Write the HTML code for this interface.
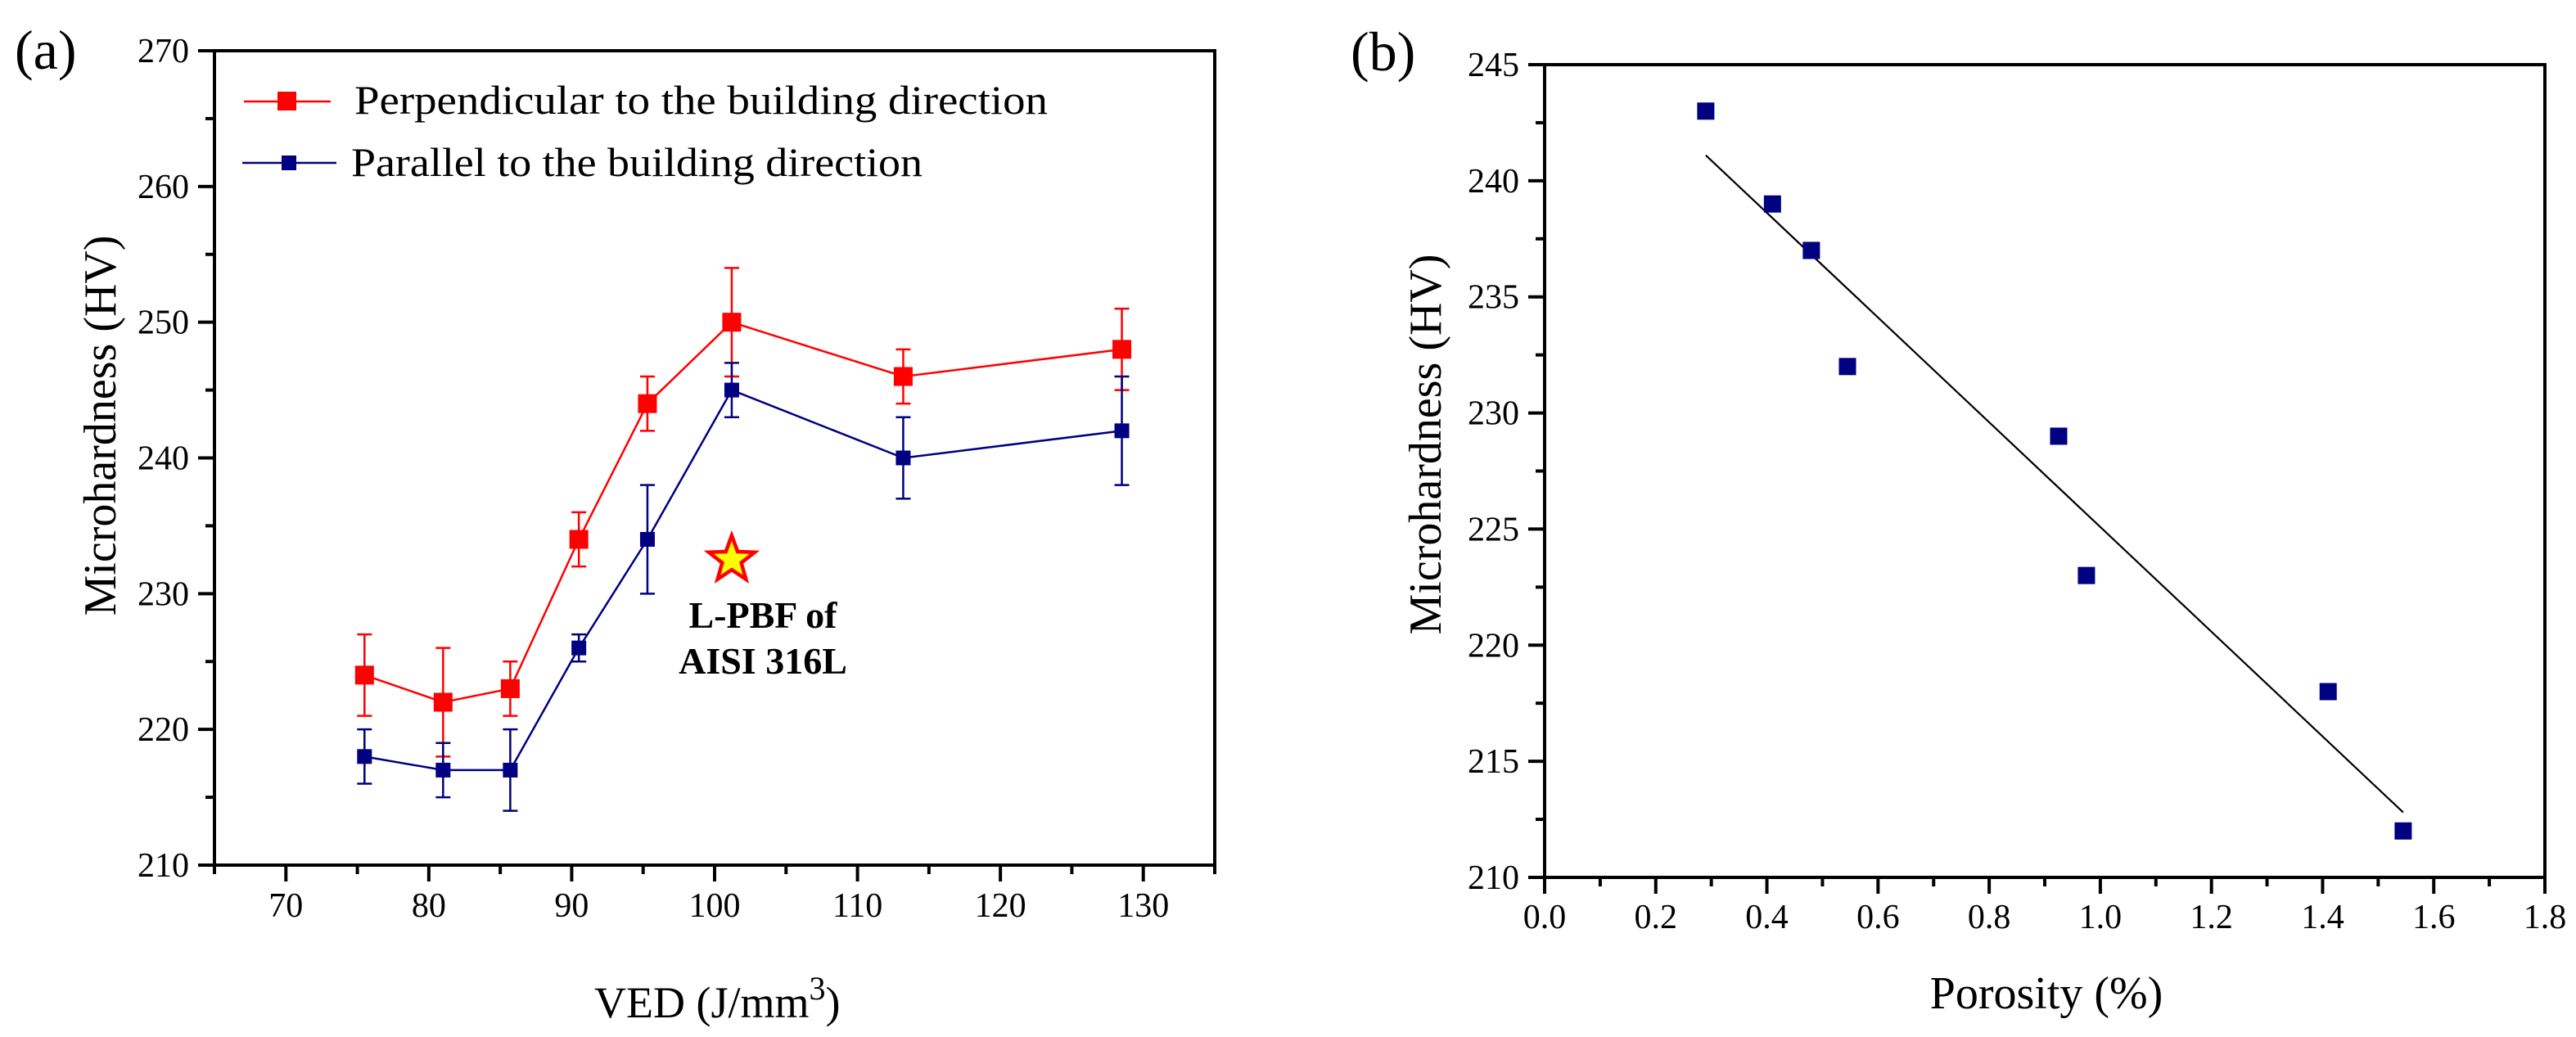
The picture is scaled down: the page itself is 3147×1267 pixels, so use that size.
<!DOCTYPE html>
<html><head><meta charset="utf-8"><style>
html,body{margin:0;padding:0;background:#fff;}
svg{display:block;font-family:"Liberation Serif",serif;}
</style></head><body>
<svg id="fig" width="3147" height="1267" viewBox="0 0 3147 1267" xmlns="http://www.w3.org/2000/svg">
<rect width="3147" height="1267" fill="#fff"/>
</svg>
<script>
// ---- Chart (a) data ----
const vedX = [75.5, 81, 85.7, 90.5, 95.3, 101.2, 113.2, 128.5];
const perpY = [224, 222, 223, 234, 244, 250, 246, 248];
const perpErr = [3, 4, 2, 2, 2, 4, 2, 3];
const paraY = [218, 217, 217, 226, 234, 245, 240, 242];
const paraErr = [2, 2, 3, 1, 4, 2, 3, 4];
const aXTicks = [70, 80, 90, 100, 110, 120, 130];
const aYTicks = [210, 220, 230, 240, 250, 260, 270];
const starPoint = [101.2, 232.5];
// ---- Chart (b) data ----
const porX = [0.29, 0.41, 0.48, 0.545, 0.925, 0.975, 1.41, 1.545];
const porY = [243, 239, 237, 232, 229, 223, 218, 212];
const fitX = [0.29, 1.545];
const fitY = [241.1, 212.8];
const bXTicks = [0.0, 0.2, 0.4, 0.6, 0.8, 1.0, 1.2, 1.4, 1.6, 1.8];
const bYTicks = [210, 215, 220, 225, 230, 235, 240, 245];

const NS = "http://www.w3.org/2000/svg";
const svg = document.getElementById('fig');
function mk(tag, attrs, parent, text) {
  const e = document.createElementNS(NS, tag);
  for (const k in attrs) e.setAttribute(k, attrs[k]);
  if (text !== undefined) e.textContent = text;
  (parent || svg).appendChild(e);
  return e;
}

// scales
const aL = 262, aR = 1484, aT = 62, aB = 1057;
const ax = v => aL + (v - 65) / 70 * (aR - aL);
const ay = v => aB - (v - 210) / 60 * (aB - aT);
const bL = 1887, bR = 3109, bT = 79, bB = 1072;
const bx = v => bL + v / 1.8 * (bR - bL);
const by = v => bB - (v - 210) / 35 * (bB - bT);

// ===== Chart (a) =====
const ga = mk('g', {});


const frameA = mk('rect', {x: aL, y: aT, width: aR - aL, height: aB - aT, fill: 'none', stroke: '#000', 'stroke-width': 4}, ga);


for (let v = 65; v <= 135; v += 5) {
  const major = v % 10 === 0;
  const t = mk('line', {x1: ax(v), x2: ax(v), y1: aB, y2: aB + (major ? 20 : 11), stroke: '#000', 'stroke-width': 4}, ga);
  
  
}
aXTicks.forEach(v => {
  const t = mk('text', {x: ax(v), y: 1120, 'font-size': 42, 'text-anchor': 'middle'}, ga, String(v));
  
  
});
for (let v = 210; v <= 270; v += 5) {
  const major = v % 10 === 0;
  const t = mk('line', {x1: aL - (major ? 20 : 11), x2: aL, y1: ay(v), y2: ay(v), stroke: '#000', 'stroke-width': 4}, ga);
  
  
}
aYTicks.forEach(v => {
  const t = mk('text', {x: 231, y: ay(v) + 14, 'font-size': 42, 'text-anchor': 'end'}, ga, String(v));
  
  
});
function series(xs, ys, errs, color, size, name) {
  const g = mk('g', {}, ga);
  
  
  const pts = xs.map((x, i) => ax(x) + ',' + ay(ys[i])).join(' ');
  const pl = mk('polyline', {points: pts, fill: 'none', stroke: color, 'stroke-width': 2.5}, g);
  
  
  xs.forEach((x, i) => {
    const cx = ax(x), top = ay(ys[i] + errs[i]), bot = ay(ys[i] - errs[i]);
    const e = mk('path', {d: `M${cx},${top}V${bot}M${cx-9},${top}H${cx+9}M${cx-9},${bot}H${cx+9}`, stroke: color, 'stroke-width': 2.5, fill: 'none'}, g);
    
    
    const m = mk('rect', {x: cx - size / 2, y: ay(ys[i]) - size / 2, width: size, height: size, fill: color}, g);
    
    
  });
}
series(vedX, perpY, perpErr, '#ff0000', 23, 'perpendicular-series');
series(vedX, paraY, paraErr, '#000080', 18, 'parallel-series');

// star
(function () {
  const cx = ax(starPoint[0]), cy = ay(starPoint[1]);
  function starPts(R, r) {
    let p = [];
    for (let i = 0; i < 10; i++) {
      const rad = i % 2 ? r : R, a = -Math.PI / 2 + i * Math.PI / 5;
      p.push((cx + rad * Math.cos(a)).toFixed(1) + ',' + (cy + rad * Math.sin(a)).toFixed(1));
    }
    return p.join(' ');
  }
  const s = mk('polygon', {points: starPts(36, 15), fill: '#ff0000'}, ga);
  
  
  const s2 = mk('polygon', {points: starPts(23, 9.5), fill: '#ffff00'}, ga);
  
  
})();
const ann1 = mk('text', {x: 932, y: 767, 'font-size': 46, 'font-weight': 'bold', 'text-anchor': 'middle'}, ga, 'L-PBF of');


const ann2 = mk('text', {x: 932, y: 823, 'font-size': 46, 'font-weight': 'bold', 'text-anchor': 'middle'}, ga, 'AISI 316L');



// legend
const lg = mk('g', {}, ga);


const l1 = mk('line', {x1: 298, x2: 404, y1: 124, y2: 124, stroke: '#ff0000', 'stroke-width': 2.5}, lg);


const m1 = mk('rect', {x: 339, y: 112, width: 23, height: 23, fill: '#ff0000'}, lg);


const t1 = mk('text', {x: 433, y: 139, 'font-size': 50, textLength: 847, lengthAdjust: 'spacingAndGlyphs'}, lg, 'Perpendicular to the building direction');


const l2 = mk('line', {x1: 296, x2: 411, y1: 199, y2: 199, stroke: '#000080', 'stroke-width': 2.5}, lg);


const m2 = mk('rect', {x: 344, y: 190, width: 18, height: 18, fill: '#000080'}, lg);


const t2 = mk('text', {x: 429, y: 215, 'font-size': 50, textLength: 698, lengthAdjust: 'spacingAndGlyphs'}, lg, 'Parallel to the building direction');



// titles
const ya = mk('text', {x: 0, y: 0, 'font-size': 56, 'text-anchor': 'middle', transform: 'translate(141,520) rotate(-90)'}, ga, 'Microhardness (HV)');


const xa = mk('text', {x: 726, y: 1243, 'font-size': 54}, ga);


mk('tspan', {}, xa, 'VED (J/mm');
mk('tspan', {dy: -22, 'font-size': 40}, xa, '3');
mk('tspan', {dy: 22}, xa, ')');
const pa = mk('text', {x: 18, y: 84, 'font-size': 68}, ga, '(a)');



// ===== Chart (b) =====
const gb = mk('g', {});


const frameB = mk('rect', {x: bL, y: bT, width: bR - bL, height: bB - bT, fill: 'none', stroke: '#000', 'stroke-width': 4}, gb);


for (let i = 0; i <= 18; i++) {
  const v = i / 10, major = i % 2 === 0;
  const t = mk('line', {x1: bx(v), x2: bx(v), y1: bB, y2: bB + (major ? 20 : 11), stroke: '#000', 'stroke-width': 4}, gb);
  
  
}
bXTicks.forEach(v => {
  const t = mk('text', {x: bx(v), y: 1134, 'font-size': 42, 'text-anchor': 'middle'}, gb, v.toFixed(1));
  
  
});
for (let i = 0; i <= 14; i++) {
  const v = 210 + i * 2.5, major = i % 2 === 0;
  const t = mk('line', {x1: bL - (major ? 20 : 11), x2: bL, y1: by(v), y2: by(v), stroke: '#000', 'stroke-width': 4}, gb);
  
  
}
bYTicks.forEach(v => {
  const t = mk('text', {x: 1856, y: by(v) + 14, 'font-size': 42, 'text-anchor': 'end'}, gb, String(v));
  
  
});
const fit = mk('line', {x1: bx(fitX[0]), y1: by(fitY[0]), x2: bx(fitX[1]), y2: by(fitY[1]), stroke: '#000', 'stroke-width': 2.2}, gb);


porX.forEach((x, i) => {
  const m = mk('rect', {x: bx(x) - 10.5, y: by(porY[i]) - 10.5, width: 21, height: 21, fill: '#000080'}, gb);
  
  
});
const yb = mk('text', {x: 0, y: 0, 'font-size': 56, 'text-anchor': 'middle', transform: 'translate(1760,543) rotate(-90)'}, gb, 'Microhardness (HV)');


const xb = mk('text', {x: 2500, y: 1232, 'font-size': 56, 'text-anchor': 'middle'}, gb, 'Porosity (%)');


const pb = mk('text', {x: 1650, y: 86, 'font-size': 68}, gb, '(b)');


</script>
</body></html>
